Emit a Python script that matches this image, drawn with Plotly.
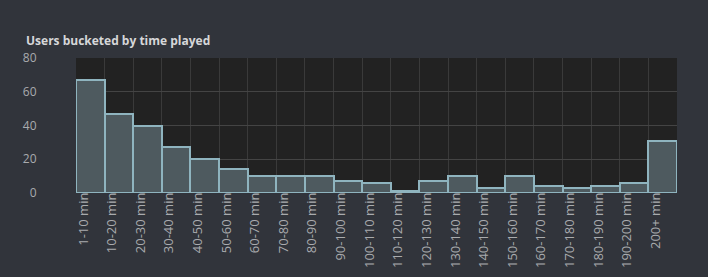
import plotly.graph_objects as go

categories = ["1-10 min", "10-20 min", "20-30 min", "30-40 min", "40-50 min", "50-60 min",
              "60-70 min", "70-80 min", "80-90 min", "90-100 min", "100-110 min", "110-120 min",
              "120-130 min", "130-140 min", "140-150 min", "150-160 min", "160-170 min",
              "170-180 min", "180-190 min", "190-200 min", "200+ min"]
users = [67, 47, 40, 27, 20, 14, 10, 10, 10, 7, 6, 1, 7, 10, 3, 10, 4, 3, 4, 6, 31]
y_ticks = [0, 20, 40, 60, 80]

fig = go.Figure(go.Bar(
    x=categories, y=users,
    marker=dict(color="#4e5a5f", line=dict(color="#8fb4bf", width=2)),
))

fig.update_layout(
    width=708, height=277,
    margin=dict(l=76, r=31, t=58, b=84),
    paper_bgcolor="#31343b", plot_bgcolor="#222222",
    bargap=0,
    showlegend=False,
    font=dict(family="Open Sans", size=12, color="#a9abae"),
    title=dict(text="<b>Users bucketed by time played</b>",
               x=26 / 708, xref="container", xanchor="left",
               y=1 - 41 / 277, yref="container", yanchor="middle",
               font=dict(family="Open Sans", size=12, color="#d6d7d9")),
)

fig.update_xaxes(
    type="category", tickangle=-90, tickson="boundaries",
    showgrid=True, gridcolor="#3a3a3a", gridwidth=1,
    ticks="", showline=False, zeroline=False, automargin=False,
    tickfont=dict(size=13, color="#a9abae"),
    ticklabelstandoff=-4, ticklabelshift=-7,
)
fig.update_yaxes(
    range=[0, 80], tickvals=y_ticks, automargin=False,
    showgrid=True, gridcolor="#444444", gridwidth=1,
    zeroline=False, showline=False,
    ticks="outside", ticklen=36, tickcolor="rgba(0,0,0,0)",
    tickfont=dict(size=12, color="#a9abae"),
)

fig.write_html("out.html")
